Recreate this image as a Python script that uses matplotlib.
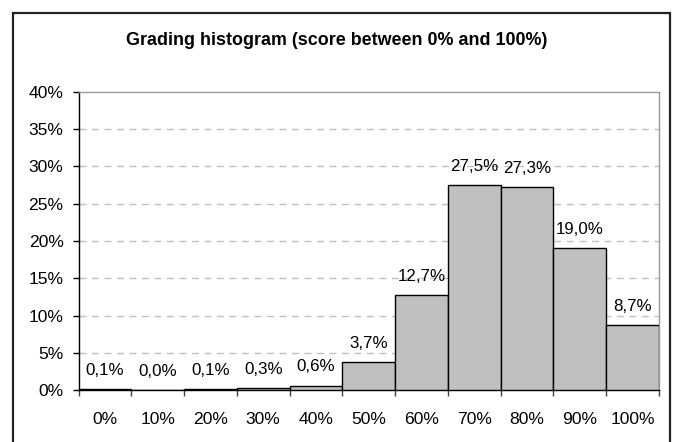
import matplotlib.pyplot as plt
from matplotlib.patches import Rectangle
from matplotlib.ticker import FixedLocator, NullFormatter

plt.rcParams["font.family"] = ["Liberation Sans", "DejaVu Sans"]

# grading histogram data (percent of students per score bin)
bins = ["0%", "10%", "20%", "30%", "40%", "50%", "60%", "70%", "80%", "90%", "100%"]
shares = [0.1, 0.0, 0.1, 0.3, 0.6, 3.7, 12.7, 27.5, 27.3, 19.0, 8.7]
y_ticks = [0, 5, 10, 15, 20, 25, 30, 35, 40]

fig = plt.figure(figsize=(6.74, 4.42), dpi=100)
fig.patch.set_facecolor("white")

# chart-area frame like the spreadsheet export
frame = Rectangle((13 / 674, -0.05), (670 - 13) / 674, 1 - 13 / 442 + 0.05,
                  transform=fig.transFigure, fill=False, edgecolor="#222222",
                  linewidth=1.6, clip_on=False)
fig.add_artist(frame)

ax = fig.add_axes([78.5 / 674, 1 - 390 / 442, (659 - 78.5) / 674, (390 - 92) / 442])

x = list(range(len(bins)))
ax.bar(x, shares, width=1.0, color="#c0c0c0", edgecolor="black", linewidth=1.0, zorder=3)

for xi, v in zip(x, shares):
    ax.annotate(f"{v:.1f}%".replace(".", ","), (xi, v), xytext=(0, 8),
                textcoords="offset points", ha="center", va="bottom",
                fontsize=12.2, zorder=4)

ax.set_xlim(-0.5, len(bins) - 0.5)
ax.set_ylim(0, 40)

ax.set_yticks(y_ticks)
ax.set_yticklabels([f"{t}%" for t in y_ticks])
for t in y_ticks[1:-1]:
    ax.axhline(t, color="#c0c0c0", linewidth=1.0, dashes=(5, 4), zorder=1)

# tick marks at bin edges, labels centered under bars
ax.xaxis.set_major_locator(FixedLocator([i - 0.5 for i in range(len(bins) + 1)]))
ax.xaxis.set_major_formatter(NullFormatter())
ax.xaxis.set_minor_locator(FixedLocator(x))
ax.set_xticklabels(bins, minor=True)
ax.tick_params(axis="x", which="major", direction="out", length=4.3, width=1, color="#444444")
ax.tick_params(axis="x", which="minor", length=0, pad=15.5, labelsize=12.6)
ax.tick_params(axis="y", direction="out", length=4.3, width=1, pad=6.5, labelsize=12.6)

ax.spines["left"].set_color("black")
ax.spines["bottom"].set_color("black")
ax.spines["top"].set_color("#999999")
ax.spines["right"].set_color("#999999")
for s in ax.spines.values():
    s.set_linewidth(1.0)

fig.text(0.5, 1 - 45 / 442, "Grading histogram (score between 0% and 100%)",
         ha="center", va="baseline", fontsize=12.9, fontweight="bold")

fig.savefig("out.png", dpi=100)
